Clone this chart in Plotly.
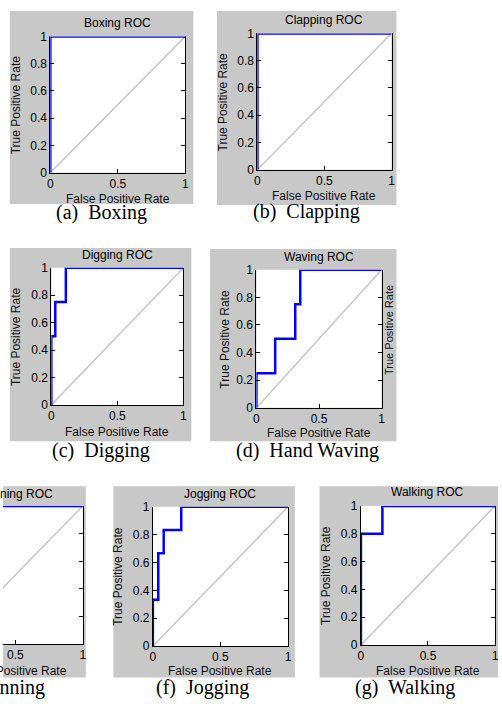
import plotly.graph_objects as go

W, H = 502, 704

# ---------------- data ----------------
class_titles = ["Boxing ROC", "Clapping ROC", "Digging ROC", "Waving ROC",
                "Running ROC", "Jogging ROC", "Walking ROC"]
caption_texts = ["(a)\u00a0 Boxing", "(b)\u00a0 Clapping", "(c)\u00a0 Digging",
                 "(d)\u00a0 Hand Waving", "(e)\u00a0 Running", "(f)\u00a0 Jogging",
                 "(g)\u00a0 Walking"]

boxing_fpr = [0, 0, 1]
boxing_tpr = [0, 1, 1]
clapping_fpr = [0, 0, 1]
clapping_tpr = [0, 1, 1]
digging_fpr = [0, 0, 0.03, 0.11, 1]
digging_tpr = [0, 0.5, 0.75, 1, 1]
waving_fpr = [0, 0, 0.15, 0.31, 0.35, 1]
waving_tpr = [0, 0.25, 0.5, 0.75, 1, 1]
running_fpr = [0, 0, 1]
running_tpr = [0, 1, 1]
jogging_fpr = [0, 0, 0.04, 0.08, 0.21, 1]
jogging_tpr = [0, 0.333, 0.667, 0.833, 1, 1]
walking_fpr = [0, 0, 0.16, 1]
walking_tpr = [0, 0.8, 1, 1]

chance_fpr = [0, 1]
chance_tpr = [0, 1]

x_tick_vals = [0, 0.5, 1]
x_tick_labels = ["0", "0.5", "1"]
y_tick_vals = [0, 0.2, 0.4, 0.6, 0.8, 1]
y_tick_labels = ["0", "0.2", "0.4", "0.6", "0.8", "1"]
x_axis_label = "False Positive Rate"
y_axis_label = "True Positive Rate"

roc_fpr = [boxing_fpr, clapping_fpr, digging_fpr, waving_fpr,
           running_fpr, jogging_fpr, walking_fpr]
roc_tpr = [boxing_tpr, clapping_tpr, digging_tpr, waving_tpr,
           running_tpr, jogging_tpr, walking_tpr]

# ---------------- layout geometry (pixels) ----------------
geom = [
    dict(plot=(48, 185, 30, 169), grey=(7, 193, 4, 201), title_y=16, xlab_y=196, ylab_x=13, cap=(100, 210)),
    dict(plot=(258, 394, 27, 166), grey=(217, 399, 4, 202), title_y=13, xlab_y=193, ylab_x=223, cap=(308, 209)),
    dict(plot=(49, 183, 266, 406), grey=(7, 191, 246, 443), title_y=253, xlab_y=434, ylab_x=14, cap=(99, 452)),
    dict(plot=(257, 384, 268, 409), grey=(210, 399, 247, 443), title_y=255, xlab_y=435, ylab_x=225, cap=(309, 452)),
    dict(plot=(-56, 81, 509, 650), grey=(0, 84, 489, 684), title_y=497, xlab_y=677, ylab_x=None, cap=(45, 694)),
    dict(plot=(152, 289, 510, 652), grey=(112, 296, 489, 684), title_y=497, xlab_y=677, ylab_x=117, cap=(202, 694)),
    dict(plot=(363, 499, 509, 651), grey=(321, 502, 489, 684), title_y=495, xlab_y=677, ylab_x=328, cap=(408, 694)),
]

GREY = "#c8c8c8"
BLUE = "#0000ff"
DIAG = "#c8c8c8"
SANS = "Liberation Sans, Arial, sans-serif"
SERIF = "Liberation Serif, Times New Roman, serif"


def px(x):
    return x / W


def py(y):
    return 1 - y / H


fig = go.Figure()
shapes = []
annotations = []
layout_axes = {}

for i, g in enumerate(geom):
    k = "" if i == 0 else str(i + 1)
    L, R, T, B = g["plot"]
    dL = max(L, 0)
    xr0 = (dL - L) / (R - L)
    clipped = L < 0

    # backgrounds
    gL, gR, gT, gB = g["grey"]
    shapes.append(dict(type="rect", xref="paper", yref="paper", layer="below",
                       x0=px(gL), x1=px(gR), y0=py(gB), y1=py(gT),
                       fillcolor=GREY, line=dict(width=0)))
    shapes.append(dict(type="rect", xref="paper", yref="paper", layer="below",
                       x0=px(dL), x1=px(R), y0=py(B), y1=py(T),
                       fillcolor="white", line=dict(width=0)))

    fig.add_trace(go.Scatter(x=chance_fpr, y=chance_tpr, mode="lines",
                             line=dict(color=DIAG, width=1.6),
                             xaxis="x" + k, yaxis="y" + k, showlegend=False,
                             hoverinfo="skip"))
    fig.add_trace(go.Scatter(x=roc_fpr[i], y=roc_tpr[i], mode="lines",
                             line=dict(color=BLUE, width=2.5, shape="hv"),
                             xaxis="x" + k, yaxis="y" + k, showlegend=False,
                             name=class_titles[i]))

    tickfont = dict(family=SANS, size=12, color="black")
    layout_axes["xaxis" + k] = dict(
        domain=[px(dL), px(R)], range=[xr0, 1], anchor="y" + k,
        tickvals=x_tick_vals, ticktext=x_tick_labels, ticks="inside",
        ticklen=4, tickwidth=1, tickcolor="black", showline=True,
        linecolor="black", linewidth=1, mirror=False, showgrid=False,
        zeroline=False, tickfont=tickfont, fixedrange=True)
    yax = dict(
        domain=[py(B), py(T)], range=[0, 1], anchor="x" + k,
        tickvals=y_tick_vals, ticktext=y_tick_labels, ticks="inside",
        ticklen=4, tickwidth=1, tickcolor="black", showline=True,
        linecolor="black", linewidth=1, mirror="ticks", showgrid=False,
        zeroline=False, tickfont=tickfont, fixedrange=True)
    if clipped:
        yax.update(side="right", mirror=False, showticklabels=False)
    layout_axes["yaxis" + k] = yax

    cx = (L + R) / 2
    annotations.append(dict(text=class_titles[i], x=px(cx), y=py(g["title_y"]),
                            xref="paper", yref="paper", showarrow=False,
                            xanchor="center", yanchor="middle",
                            font=dict(family=SANS, size=12, color="black")))
    annotations.append(dict(text=x_axis_label, x=px(cx), y=py(g["xlab_y"]),
                            xref="paper", yref="paper", showarrow=False,
                            xanchor="center", yanchor="middle",
                            font=dict(family=SANS, size=12, color="#111111")))
    if g["ylab_x"] is not None:
        annotations.append(dict(text=y_axis_label, x=px(g["ylab_x"]), y=py((T + B) / 2),
                                xref="paper", yref="paper", showarrow=False,
                                textangle=-90, xanchor="center", yanchor="middle",
                                font=dict(family=SANS, size=12, color="#111111")))
    cap_x, cap_y = g["cap"]
    annotations.append(dict(text=caption_texts[i], x=px(cap_x), y=py(cap_y),
                            xref="paper", yref="paper", showarrow=False,
                            xanchor="right" if clipped else "center", yanchor="middle",
                            font=dict(family=SERIF, size=20, color="black")))

# neighbouring panel's y-label visible at right of (d)
annotations.append(dict(text=y_axis_label, x=px(392), y=py(330),
                        xref="paper", yref="paper", showarrow=False,
                        textangle=-90, xanchor="center", yanchor="middle",
                        font=dict(family=SANS, size=11, color="#111111")))

fig.update_layout(
    width=W, height=H, margin=dict(l=0, r=0, t=0, b=0),
    paper_bgcolor="white", plot_bgcolor="rgba(0,0,0,0)",
    shapes=shapes, annotations=annotations, showlegend=False,
    **layout_axes)

fig.write_html("out.html", config={"displayModeBar": False},
               post_script="document.body.style.margin='0';document.body.style.overflow='hidden';")
